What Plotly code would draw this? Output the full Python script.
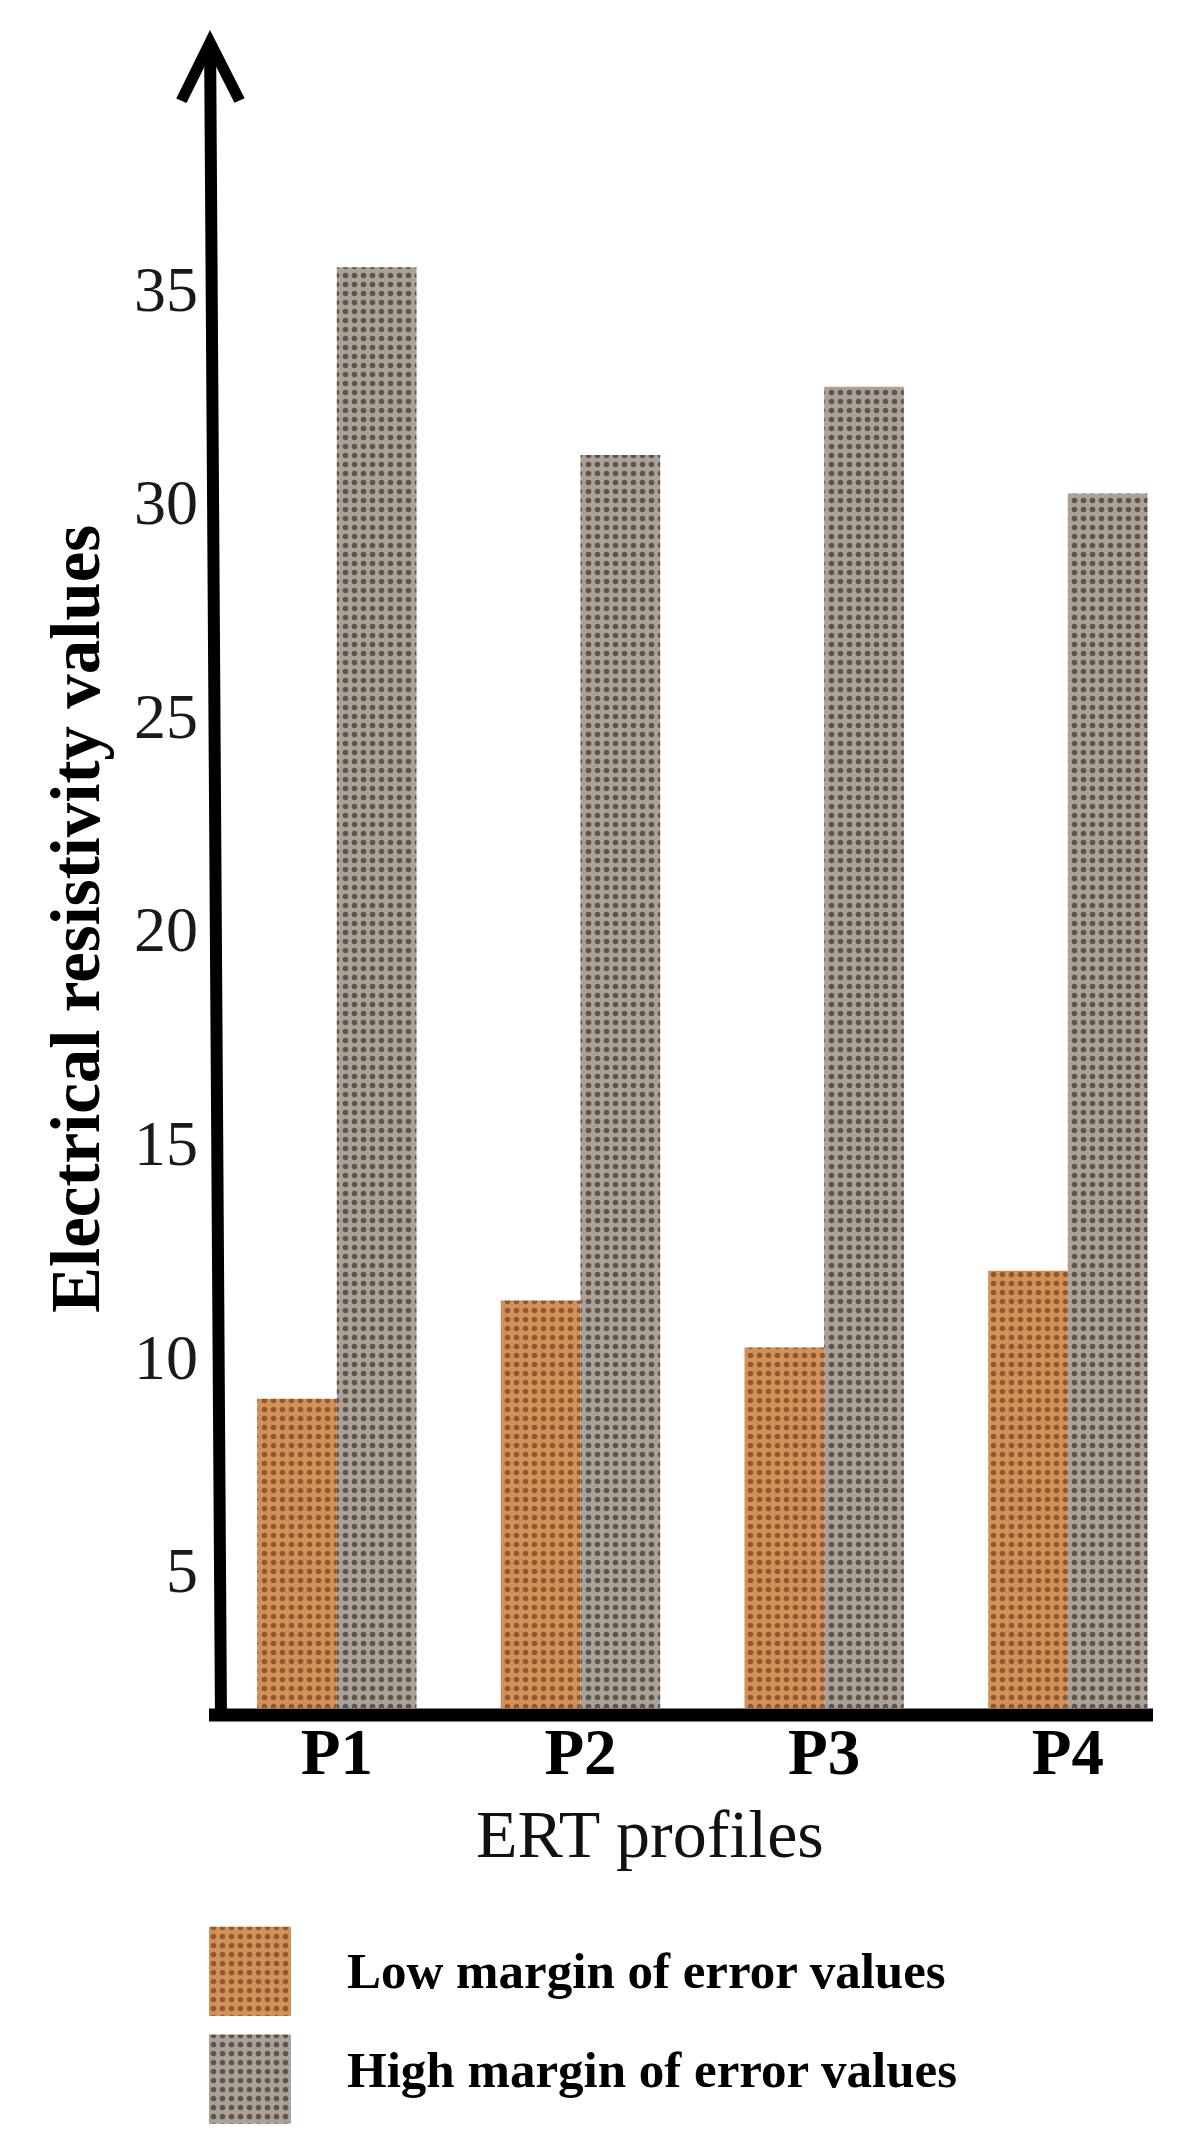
import plotly.graph_objects as go

# ---------------- data ----------------
profiles = ["P1", "P2", "P3", "P4"]
low_values = [9.0, 11.3, 10.2, 12.0]
high_values = [35.5, 31.1, 32.7, 30.2]
series_names = ["Low margin of error values", "High margin of error values"]
y_tickvals = [5, 10, 15, 20, 25, 30, 35]
y_ticktext = ["5", "10", "15", "20", "25", "30", "35"]
x_title = "ERT profiles"
y_title = "Electrical resistivity values"

# ---------------- styling helpers ----------------
W, H = 1179, 2130
FONT = "Liberation Serif"


def px_x(p):
    return p / W


def px_y(p):
    return (H - p) / H


LOW_BG, LOW_FG = "#d2915a", "#93582a"
HIGH_BG, HIGH_FG = "#aba197", "#5c544d"


def marker(bg, fg):
    return dict(color=bg, line=dict(width=0),
                pattern=dict(shape=".", fgcolor=fg, bgcolor=bg, size=9,
                             solidity=0.3, fillmode="replace"))


fig = go.Figure()
fig.add_trace(go.Bar(x=profiles, y=low_values, name=series_names[0],
                     marker=marker(LOW_BG, LOW_FG), showlegend=False))
fig.add_trace(go.Bar(x=profiles, y=high_values, name=series_names[1],
                     marker=marker(HIGH_BG, HIGH_FG), showlegend=False))

# legend swatches (drawn as bars on a small helper axis)
fig.add_trace(go.Bar(x=[1], y=[1], orientation="h", width=[0.83], offset=-0.415,
                     marker=marker(LOW_BG, LOW_FG), xaxis="x2", yaxis="y2",
                     showlegend=False, hoverinfo="skip"))
fig.add_trace(go.Bar(x=[1], y=[0], orientation="h", width=[0.83], offset=-0.415,
                     marker=marker(HIGH_BG, HIGH_FG), xaxis="x2", yaxis="y2",
                     showlegend=False, hoverinfo="skip"))

annotations = [
    # y axis with arrow head
    dict(x=px_x(202), y=px_y(22), xref="paper", yref="paper",
         ax=11, ay=1691, axref="pixel", ayref="pixel", text="",
         showarrow=True, arrowhead=5, arrowsize=0.95, arrowwidth=12,
         arrowcolor="black"),
    # y axis title
    dict(x=px_x(68), y=px_y(911), xref="paper", yref="paper",
         text=y_title, textangle=-90, showarrow=False,
         xanchor="center", yanchor="middle",
         font=dict(family=FONT, size=69, color="black", weight="bold")),
    # x axis title
    dict(x=px_x(642), y=px_y(1826), xref="paper", yref="paper",
         text=x_title, showarrow=False, xanchor="center", yanchor="middle",
         font=dict(family=FONT, size=68, color="#111111")),
    # legend texts
    dict(x=px_x(337), y=px_y(1963), xref="paper", yref="paper",
         text=series_names[0], showarrow=False, xanchor="left", yanchor="middle",
         font=dict(family=FONT, size=51, color="black", weight="bold")),
    dict(x=px_x(337), y=px_y(2062), xref="paper", yref="paper",
         text=series_names[1], showarrow=False, xanchor="left", yanchor="middle",
         font=dict(family=FONT, size=51, color="black", weight="bold")),
]

shapes = [
    dict(type="line", xref="paper", yref="paper",
         x0=px_x(201), x1=px_x(1145), y0=px_y(1707), y1=px_y(1707),
         line=dict(color="black", width=13)),
]

fig.update_layout(
    width=W, height=H,
    margin=dict(l=0, r=0, t=0, b=0),
    paper_bgcolor="white", plot_bgcolor="white",
    barmode="group", bargap=0.346, bargroupgap=0,
    showlegend=False,
    annotations=annotations,
    shapes=shapes,
    xaxis=dict(domain=[px_x(207), px_x(1150)], range=[-0.5, 3.37],
               type="category", showgrid=False, zeroline=False, showline=False,
               ticks="", ticklabelstandoff=0,
               tickfont=dict(family=FONT, size=65, color="black", weight="bold")),
    yaxis=dict(domain=[px_y(1700), px_y(20)], range=[1.76, 41.1],
               tickvals=y_tickvals, ticktext=y_ticktext,
               showgrid=False, zeroline=False, showline=False, ticks="",
               ticklabelstandoff=16,
               tickfont=dict(family=FONT, size=64, color="#1a1a1a")),
    xaxis2=dict(domain=[px_x(201), px_x(283)], range=[0, 1], visible=False,
                anchor="y2"),
    yaxis2=dict(domain=[px_y(2119.4), px_y(1915.1)], range=[-0.45, 1.45],
                visible=False, anchor="x2"),
)

fig.write_html("out.html")
